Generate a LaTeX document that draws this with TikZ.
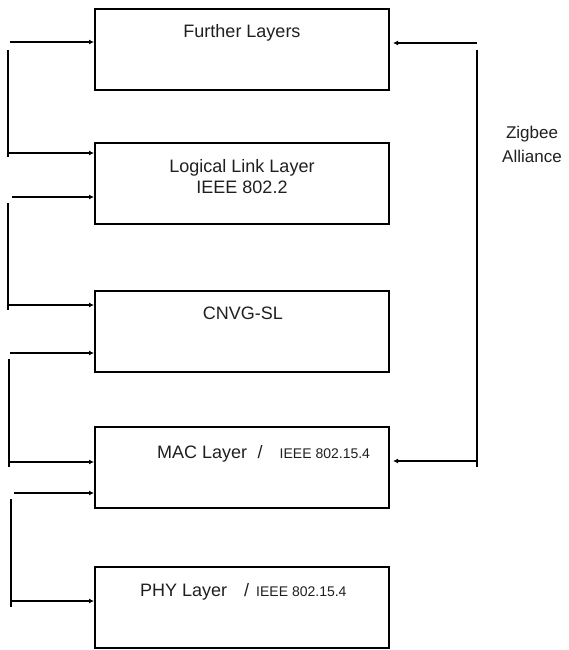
\documentclass[tikz,border=0pt]{standalone}
\usepackage{fontspec}
\setmainfont{Liberation Sans}
\usetikzlibrary{arrows.meta}
\tikzset{
  layerbox/.style={draw=black, line width=2pt, minimum width=294pt, minimum height=81pt, inner sep=0pt},
  lbl/.style={inner sep=0pt, font=\fontsize{18}{20}\selectfont, text=black!88},
  conn/.style={line width=2pt, draw=black},
  arr/.style={conn, -{Latex[length=5pt,width=5pt]}},
}
\begin{document}
\begin{tikzpicture}[x=1pt,y=-1pt]
\useasboundingbox (0,0) rectangle (569,650);
% boxes
\node[layerbox] (fl)  at (242,49.5) {};
\node[layerbox] (ll)  at (242,183.5) {};
\node[layerbox] (cn)  at (242,331) {};
\node[layerbox] (mac) at (242,467.5) {};
\node[layerbox] (phy) at (242,607.5) {};
% labels
\node[lbl] (tfl) at (242,33) {Further Layers};
\node[lbl, align=center, font=\fontsize{18}{21}\selectfont] (tll) at (242,177) {Logical Link Layer\\IEEE 802.2};
\node[lbl] (tcn) at (243,313) {CNVG-SL};
\node[lbl, anchor=base west] (tmac) at (157,458.5) {MAC Layer\hspace{10.5pt}/\hspace{17pt}{\fontsize{14}{16}\selectfont IEEE 802.15.4}};
\node[lbl, anchor=base west] (tphy) at (140,596) {PHY Layer\hspace{17pt}/\hspace{7pt}{\fontsize{14}{16}\selectfont IEEE 802.15.4}};
\node[lbl, align=center, font=\fontsize{17}{24}\selectfont] (zb) at (532,144) {Zigbee\\Alliance};
% left coordinates
\coordinate (a1) at (10,42);
\coordinate (v1t) at (8,50);   \coordinate (v1b) at (8,157);
\coordinate (a2) at (8,153);
\coordinate (a3) at (12,197);
\coordinate (v2t) at (8,203);  \coordinate (v2b) at (8,310);
\coordinate (a4) at (8,305);
\coordinate (a5) at (10,353);
\coordinate (v3t) at (9,359);  \coordinate (v3b) at (9,467);
\coordinate (a6) at (9,462);
\coordinate (a7) at (14,493);
\coordinate (v4t) at (11,499); \coordinate (v4b) at (11,607);
\coordinate (a8) at (11,601);
% right coordinates
\coordinate (r1) at (477,43);
\coordinate (rvt) at (477,50); \coordinate (rvb) at (477,467);
\coordinate (r2) at (477,461);
% left connectors
\draw[arr] (a1) -- (fl.west |- a1);
\draw[conn] (v1t) -- (v1b);
\draw[arr] (a2) -- (ll.west |- a2);
\draw[arr] (a3) -- (ll.west |- a3);
\draw[conn] (v2t) -- (v2b);
\draw[arr] (a4) -- (cn.west |- a4);
\draw[arr] (a5) -- (cn.west |- a5);
\draw[conn] (v3t) -- (v3b);
\draw[arr] (a6) -- (mac.west |- a6);
\draw[arr] (a7) -- (mac.west |- a7);
\draw[conn] (v4t) -- (v4b);
\draw[arr] (a8) -- (phy.west |- a8);
% right connectors
\draw[arr] (r1) -- ([xshift=3pt]fl.east |- r1);
\draw[conn] (rvt) -- (rvb);
\draw[arr] (r2) -- ([xshift=3pt]mac.east |- r2);
\end{tikzpicture}
\end{document}
